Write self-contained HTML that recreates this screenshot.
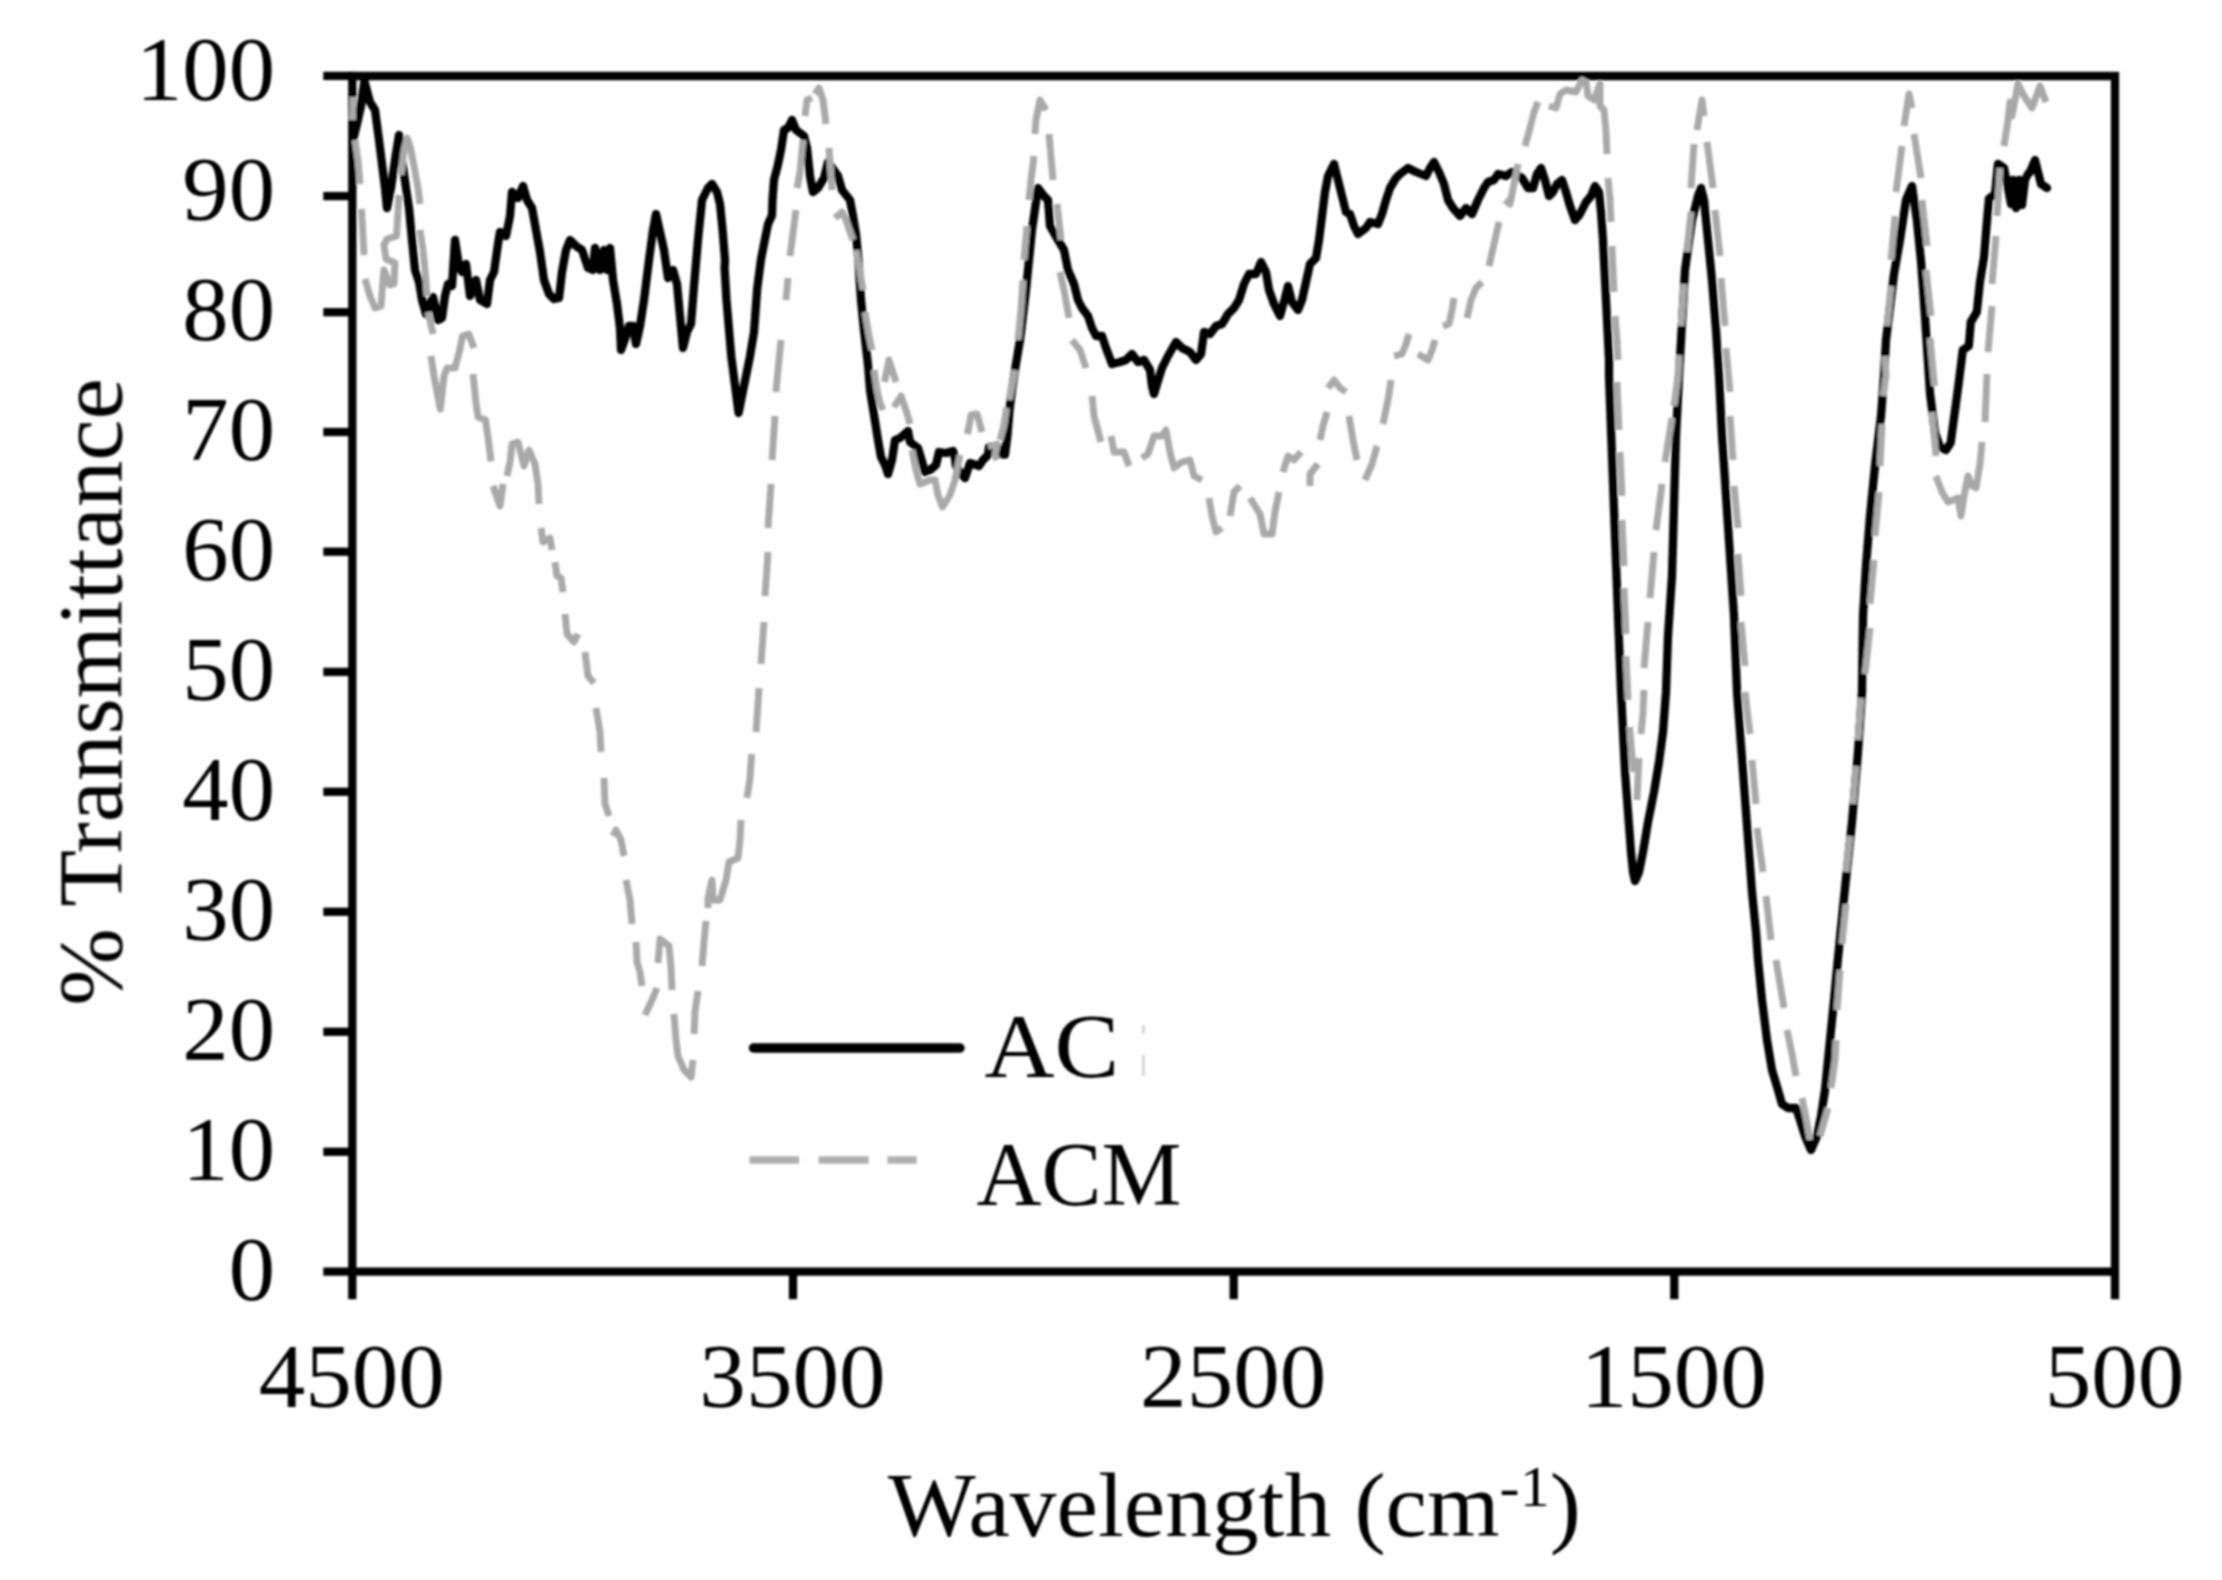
<!DOCTYPE html><html><head><meta charset="utf-8"><title>FTIR</title><style>html,body{margin:0;padding:0;background:#fff}svg{display:block}text{font-family:"Liberation Serif",serif;fill:#000}</style></head><body>
<svg width="2222" height="1580" viewBox="0 0 2222 1580">
<defs><filter id="soft" x="0" y="0" width="2222" height="1580" filterUnits="userSpaceOnUse"><feGaussianBlur stdDeviation="1.2"/></filter></defs>
<rect width="2222" height="1580" fill="#fff"/>
<g filter="url(#soft)">
<g stroke="#000" stroke-width="8.3" fill="none" stroke-linecap="butt">
<path d="M352.3,76.0 H2115.0 V1299.2 M352.3,71.75 V1299.2 M323.3,1271.7 H2115.0"/>
<path d="M323.3,1151.8 H352.3"/>
<path d="M323.3,1031.8 H352.3"/>
<path d="M323.3,911.8 H352.3"/>
<path d="M323.3,791.8 H352.3"/>
<path d="M323.3,671.9 H352.3"/>
<path d="M323.3,551.7 H352.3"/>
<path d="M323.3,432.0 H352.3"/>
<path d="M323.3,312.2 H352.3"/>
<path d="M323.3,196.1 H352.3"/>
<path d="M323.3,75.9 H352.3"/>
<path d="M793.0,1271.7 V1299.2"/>
<path d="M1233.7,1271.7 V1299.2"/>
<path d="M1674.3,1271.7 V1299.2"/>
</g>
<path d="M353.0,140.0 L357.0,124.0 L361.0,106.0 L364.4,81.0 L370.0,102.0 L375.0,110.0 L379.0,140.0 L382.0,164.0 L385.0,188.0 L387.0,208.0 L391.0,188.0 L395.0,160.0 L399.0,135.0 L402.0,160.0 L406.0,188.0 L409.0,208.0 L412.0,240.0 L415.0,270.0 L419.0,282.0 L422.0,300.0 L426.0,314.0 L433.0,297.0 L438.0,320.0 L442.0,318.0 L445.0,296.0 L448.0,284.0 L452.0,286.0 L455.0,240.0 L459.0,266.0 L462.0,272.0 L466.0,264.0 L470.0,296.0 L476.0,280.0 L480.0,300.0 L487.0,304.0 L490.0,280.0 L494.0,272.0 L498.0,244.0 L500.0,232.0 L506.0,236.0 L510.0,216.0 L512.0,192.0 L518.0,198.0 L523.0,186.0 L527.0,200.0 L532.0,208.0 L536.0,230.0 L540.0,252.0 L544.0,280.0 L549.0,294.0 L554.0,299.0 L559.0,298.0 L562.0,272.0 L566.0,250.0 L570.0,240.0 L576.0,246.0 L582.0,250.0 L588.0,268.0 L593.0,270.0 L595.0,248.0 L600.0,270.0 L604.0,250.0 L607.0,270.0 L610.0,248.0 L613.0,280.0 L617.0,304.0 L620.0,328.0 L621.0,350.0 L626.0,336.0 L629.0,326.0 L633.0,326.0 L636.0,344.0 L640.0,326.0 L644.0,300.0 L649.0,260.0 L653.0,230.0 L656.0,214.0 L660.0,232.0 L664.0,250.0 L668.0,278.0 L673.0,270.0 L677.0,284.0 L680.0,316.0 L683.0,348.0 L687.0,332.0 L691.0,324.0 L694.0,286.0 L698.0,240.0 L702.0,200.0 L708.0,188.0 L712.0,184.0 L717.0,192.0 L720.0,204.0 L722.6,230.0 L725.0,260.0 L724.6,268.6 L726.5,300.0 L731.3,356.7 L738.6,413.0 L749.9,356.7 L754.0,332.0 L755.2,316.0 L757.2,288.4 L761.1,258.8 L765.0,239.0 L768.0,224.2 L772.0,215.3 L772.5,199.5 L774.0,179.8 L777.9,165.0 L781.0,150.0 L784.0,130.0 L788.0,128.0 L792.0,120.0 L796.0,130.0 L804.0,136.0 L807.0,148.0 L810.0,176.0 L813.0,192.0 L818.0,188.0 L824.0,178.0 L828.0,162.0 L838.0,176.0 L842.0,190.0 L850.0,200.0 L853.0,216.0 L856.0,234.0 L858.4,260.0 L861.0,300.0 L864.0,330.0 L868.0,365.0 L870.0,390.0 L874.0,415.0 L878.0,440.0 L881.0,457.0 L885.0,465.0 L888.0,474.0 L892.0,460.0 L895.0,440.0 L900.0,438.0 L908.0,431.0 L910.0,442.0 L918.0,448.0 L921.0,458.0 L925.0,472.0 L930.0,470.0 L936.0,465.0 L939.0,452.0 L946.0,453.0 L953.0,451.0 L955.0,458.0 L956.0,466.0 L962.0,475.0 L965.0,478.0 L970.0,463.0 L979.0,466.0 L983.0,460.0 L988.0,455.0 L989.0,447.0 L997.0,445.5 L1000.0,454.0 L1005.0,454.5 L1007.5,435.0 L1009.5,410.0 L1012.0,390.0 L1015.0,370.0 L1020.0,340.0 L1026.0,290.0 L1032.0,230.0 L1038.0,188.0 L1044.0,196.0 L1048.0,200.0 L1050.0,226.0 L1058.0,240.0 L1064.0,250.0 L1068.0,270.0 L1074.0,284.0 L1078.0,300.0 L1082.0,308.0 L1088.0,316.0 L1092.0,328.0 L1096.0,336.0 L1102.0,336.0 L1106.0,348.0 L1112.0,364.0 L1120.0,362.0 L1126.0,360.0 L1132.0,354.0 L1138.0,362.0 L1144.0,360.0 L1150.0,370.0 L1152.0,386.0 L1154.0,394.0 L1157.0,384.0 L1162.0,368.0 L1168.0,356.0 L1176.0,342.0 L1182.0,348.0 L1190.0,352.0 L1196.0,360.0 L1201.0,354.0 L1204.0,332.0 L1210.0,334.0 L1216.0,326.0 L1222.0,324.0 L1228.0,314.0 L1234.0,308.0 L1239.0,300.0 L1244.0,284.0 L1249.0,274.0 L1256.0,274.0 L1261.0,262.0 L1266.0,272.0 L1269.0,290.0 L1274.0,304.0 L1280.0,316.0 L1285.0,298.0 L1288.0,286.0 L1292.0,302.0 L1298.0,310.0 L1302.0,300.0 L1306.0,282.0 L1310.0,264.0 L1316.0,258.0 L1319.0,240.0 L1322.0,216.0 L1325.0,192.0 L1328.0,176.0 L1334.0,164.0 L1338.0,180.0 L1342.0,196.0 L1346.0,212.0 L1350.0,214.0 L1354.0,226.0 L1358.0,234.0 L1366.0,228.0 L1370.0,222.0 L1378.0,224.0 L1382.0,214.0 L1386.0,200.0 L1390.0,188.0 L1396.0,178.0 L1400.0,174.0 L1408.0,168.0 L1416.0,172.0 L1426.0,176.0 L1430.0,168.0 L1434.0,162.0 L1439.0,172.0 L1444.0,184.0 L1448.0,200.0 L1453.0,208.0 L1460.0,216.0 L1466.0,208.0 L1472.0,214.0 L1478.0,200.0 L1484.0,188.0 L1488.0,182.0 L1494.0,180.0 L1498.0,174.0 L1506.0,176.0 L1512.0,172.0 L1522.0,178.0 L1528.0,188.0 L1533.0,188.0 L1537.0,174.0 L1541.0,168.0 L1545.0,180.0 L1549.0,196.0 L1553.0,192.0 L1557.0,184.0 L1562.0,180.0 L1566.0,192.0 L1570.0,206.0 L1575.0,220.0 L1580.0,214.0 L1586.0,202.0 L1591.0,196.0 L1595.0,186.0 L1599.0,192.0 L1601.0,212.0 L1603.0,240.0 L1605.0,280.0 L1607.0,320.0 L1609.0,360.0 L1609.0,376.0 L1612.0,456.0 L1615.0,536.0 L1618.0,616.0 L1621.0,692.0 L1623.0,732.0 L1625.0,772.0 L1628.0,812.0 L1631.0,852.0 L1633.0,872.0 L1635.0,881.0 L1639.0,872.0 L1643.0,852.0 L1648.0,822.0 L1654.0,792.0 L1659.0,762.0 L1663.0,732.0 L1666.0,692.0 L1668.0,636.0 L1672.0,576.0 L1676.0,436.0 L1679.0,376.0 L1685.0,270.0 L1692.0,220.0 L1698.0,196.0 L1701.0,188.0 L1704.0,200.0 L1708.0,240.0 L1712.0,280.0 L1716.0,330.0 L1719.0,376.0 L1722.0,436.0 L1726.0,496.0 L1730.0,556.0 L1734.0,616.0 L1737.0,692.0 L1740.0,732.0 L1743.0,772.0 L1746.0,812.0 L1749.0,852.0 L1752.0,892.0 L1756.0,932.0 L1758.0,960.0 L1762.0,1000.0 L1767.0,1040.0 L1772.0,1070.0 L1778.0,1090.0 L1782.0,1104.0 L1788.0,1108.0 L1796.0,1108.0 L1800.0,1120.0 L1805.0,1136.0 L1811.0,1150.0 L1817.0,1136.0 L1821.0,1116.0 L1825.0,1090.0 L1828.0,1060.0 L1831.0,1030.0 L1834.0,1000.0 L1838.0,958.0 L1845.0,888.0 L1852.0,822.0 L1858.0,752.0 L1862.0,692.0 L1863.0,616.0 L1866.0,566.0 L1870.0,516.0 L1875.0,466.0 L1881.0,416.0 L1884.0,376.0 L1886.0,340.0 L1894.0,274.0 L1900.0,240.0 L1906.0,200.0 L1912.0,186.0 L1917.0,221.0 L1921.0,261.0 L1924.0,302.0 L1926.0,332.0 L1930.0,393.0 L1935.0,433.0 L1940.0,447.0 L1946.0,450.0 L1950.6,443.0 L1954.7,413.0 L1958.7,383.0 L1962.8,350.0 L1968.8,346.0 L1970.8,322.0 L1976.8,312.0 L1980.0,281.4 L1984.0,257.0 L1987.0,220.6 L1989.0,198.4 L1995.0,194.4 L1996.4,180.0 L1998.0,164.0 L2004.0,168.0 L2008.0,188.0 L2011.0,204.0 L2013.0,180.0 L2016.0,208.0 L2019.0,180.0 L2022.0,205.0 L2025.0,180.0 L2028.0,174.0 L2030.0,172.0 L2035.0,160.0 L2038.0,172.0 L2041.0,184.0 L2047.0,188.0" fill="none" stroke="#000" stroke-width="8.3" stroke-linejoin="round" stroke-linecap="round"/>
<path d="M353.0,97.0 L352.5,120.0 M355.0,140.0 L358.0,160.0 L360.0,184.0 M361.5,209.0 L364.0,255.0 M365.0,279.0 L370.0,296.0 L375.0,308.0 L381.0,306.0 L383.0,280.0 L384.0,270.0 L390.0,285.0 L394.0,284.0 L395.0,263.0 L386.0,259.0 L384.0,245.0 L387.0,239.0 L396.5,236.0 L397.5,220.0 L399.0,195.0 M401.0,175.0 L404.0,150.0 L407.0,138.0 L410.0,146.0 L414.0,166.0 L418.0,188.0 L420.0,204.0 M420.0,230.0 L423.0,250.0 L425.5,275.0 L427.0,296.0 M428.0,312.0 L433.0,334.0 M431.0,356.0 L434.0,376.0 L437.0,392.0 L440.3,409.0 L444.0,376.0 L447.0,368.0 L455.0,368.0 L459.5,351.0 L462.5,336.0 L468.7,334.0 L474.0,348.0 M473.0,374.0 L476.0,403.0 L478.0,417.0 L485.5,420.0 L488.6,441.5 L491.0,461.4 M493.0,486.0 L500.0,506.0 L503.0,484.0 M507.0,476.0 L510.0,462.0 L512.0,444.0 L518.0,442.0 L524.0,466.0 L529.0,450.0 L535.0,464.0 L538.0,484.0 L539.0,504.0 M541.0,528.0 L543.0,542.0 L550.0,538.0 L552.0,550.0 M555.0,562.0 L557.0,576.0 L561.0,578.0 L563.0,592.0 M565.0,614.0 L567.0,634.0 L574.0,642.0 L578.0,634.0 M585.0,652.0 L588.0,676.0 L594.0,683.0 M596.0,708.0 L600.0,732.0 L601.0,752.0 M604.0,778.0 L605.0,804.0 L609.0,816.0 M613.0,836.0 L616.0,830.0 L621.0,840.0 L624.0,856.0 M626.0,880.0 L630.0,900.0 L632.0,924.0 M636.0,942.0 L637.0,962.0 L640.0,972.0 L642.0,986.0 M645.0,1015.0 L652.0,1000.0 L657.0,988.0 M658.0,963.0 L660.0,939.0 L669.0,946.0 L671.0,968.0 L672.0,990.0 M674.0,1014.0 L676.0,1040.0 L678.0,1056.0 L684.0,1070.0 L691.0,1077.0 L693.0,1060.0 M694.0,1034.0 L695.0,1012.0 L698.0,991.0 M702.0,966.0 L704.0,942.0 L706.0,921.0 M708.0,908.0 L708.0,898.0 L712.0,880.0 L713.0,900.0 L720.0,900.0 L726.0,880.0 L729.0,862.0 L738.0,858.0 L740.0,840.0 L741.0,820.0 M747.0,798.0 L750.0,778.0 L751.6,754.0 M756.0,732.0 L757.6,710.0 L759.0,688.0 M761.0,664.0 L764.0,622.0 M765.0,596.0 L768.0,552.0 M768.0,528.0 L771.0,484.0 M772.0,460.0 L775.0,416.0 M776.0,392.0 L778.0,370.0 L781.0,340.0 M786.0,300.0 L788.0,278.0 M790.0,256.0 L796.0,210.0 M797.0,188.0 L800.0,172.0 L803.0,140.0 M805.0,116.0 L807.0,100.0 L812.0,98.0 M815.0,94.0 L819.0,88.0 L823.0,100.0 L826.0,124.0 M829.0,148.0 L832.0,190.0 M835.0,218.0 L842.0,212.0 L846.0,220.0 L853.0,240.0 M856.0,250.0 L860.0,272.0 L863.0,290.0 M865.0,312.0 L869.0,336.0 L872.0,350.0 M874.0,370.0 L877.0,390.0 L880.0,403.0 L883.0,410.0 M884.5,382.0 L889.0,360.0 L896.0,382.0 M894.0,407.0 L901.0,396.0 L906.0,410.0 L910.0,424.0 M912.0,450.0 L916.0,470.0 L920.0,484.0 L930.0,480.0 L935.0,480.0 L938.0,495.0 L942.5,507.0 L950.0,495.0 L955.0,480.0 L958.0,465.0 L960.0,455.0 M967.5,434.0 L971.0,415.0 L977.0,414.0 L982.0,432.0 M988.0,446.0 L997.0,445.0 L995.0,455.0 L997.0,460.0 M1000.0,440.0 L1004.0,425.0 L1006.5,408.0 M1009.0,400.0 L1012.0,385.0 L1015.0,370.0 M1018.0,340.0 L1021.0,310.0 L1023.0,280.0 M1024.0,260.0 L1027.0,226.0 M1029.0,200.0 L1031.0,180.0 L1034.0,156.0 M1035.0,134.0 L1036.0,120.0 L1040.0,100.0 L1046.0,110.0 M1049.0,134.0 L1053.0,180.0 M1057.0,204.0 L1061.0,240.0 M1060.0,272.0 L1064.0,290.0 L1069.0,318.0 M1072.0,340.0 L1080.0,350.0 L1086.0,368.0 M1092.0,396.0 L1094.0,416.0 L1101.0,442.0 M1111.0,436.0 L1114.0,452.0 L1124.0,452.0 L1129.0,466.0 M1142.0,458.0 L1148.0,454.0 L1154.0,436.0 L1162.0,436.0 L1166.0,430.0 L1170.0,452.0 L1174.0,468.0 L1182.0,462.0 L1190.0,460.0 L1194.0,476.0 L1202.0,480.0 M1209.0,498.0 L1212.0,516.0 L1216.0,532.0 L1222.0,528.0 M1230.0,516.0 L1234.0,492.0 L1240.0,486.0 M1250.0,498.0 L1260.0,514.0 L1264.0,534.0 L1272.0,534.0 L1275.0,512.0 L1279.0,492.0 M1283.0,472.0 L1288.0,456.0 L1294.0,460.0 L1301.0,452.0 M1310.0,486.0 L1310.0,474.0 L1318.0,464.0 M1320.0,440.0 L1323.0,426.0 L1327.0,412.0 M1328.0,388.0 L1334.0,380.0 L1340.0,388.0 L1346.0,392.0 M1349.0,416.0 L1353.0,440.0 L1357.0,460.0 M1365.0,480.0 L1372.0,464.0 L1377.0,446.0 M1383.0,424.0 L1388.0,400.0 L1391.0,380.0 M1394.0,356.0 L1402.0,354.0 L1406.0,344.0 L1409.0,334.0 M1418.0,354.0 L1428.0,360.0 L1432.0,350.0 L1435.0,340.0 M1443.0,326.0 L1449.0,324.0 L1452.0,310.0 L1454.0,298.0 M1467.0,318.0 L1471.0,300.0 L1476.0,288.0 L1482.0,282.0 M1489.0,266.0 L1494.0,244.0 L1499.0,222.0 M1505.0,200.0 L1510.0,204.0 L1514.0,184.0 L1518.0,164.0 M1525.0,146.0 L1530.0,128.0 L1534.0,112.0 L1538.0,102.0 M1549.0,106.0 L1556.0,108.0 L1560.0,94.0 L1566.0,90.0 L1576.0,92.0 L1582.0,80.0 L1586.0,82.0 L1588.0,96.0 L1594.0,100.0 L1600.0,84.0 L1600.0,106.0 L1604.0,110.0 L1606.0,132.0 L1607.0,154.0 M1608.0,178.0 L1610.0,200.0 L1611.0,222.0 M1612.0,246.0 L1613.0,270.0 L1614.0,292.0 M1615.0,316.0 L1617.0,340.0 L1618.0,360.0 M1617.0,382.0 L1619.0,430.0 M1620.0,452.0 L1622.0,496.0 M1622.0,520.0 L1624.0,566.0 M1624.0,588.0 L1626.0,634.0 M1626.0,656.0 L1628.0,700.0 M1629.6,727.0 L1631.6,752.0 L1633.6,772.0 M1637.0,800.0 L1638.0,778.0 L1639.0,758.0 M1641.0,734.0 L1643.0,712.0 L1644.0,690.0 M1644.0,668.0 L1648.0,622.0 M1650.0,598.0 L1654.0,552.0 M1656.0,530.0 L1662.0,484.0 M1665.0,462.0 L1672.0,418.0 M1674.0,406.0 L1678.0,376.0 L1679.0,355.0 M1681.0,326.0 L1684.0,284.0 M1687.0,252.0 L1691.0,212.0 M1691.0,188.0 L1694.0,144.0 M1697.0,130.0 L1702.0,100.0 L1704.0,116.0 M1707.0,142.0 L1713.0,188.0 M1715.0,210.0 L1720.0,256.0 M1721.0,278.0 L1725.0,326.0 M1726.0,348.0 L1730.0,392.0 M1730.0,416.0 L1733.0,460.0 M1734.0,486.0 L1738.0,528.0 M1738.0,554.0 L1741.0,596.0 M1741.0,622.0 L1745.0,666.0 M1745.0,692.0 L1750.0,734.0 M1752.0,760.0 L1756.0,804.0 M1757.0,828.0 L1763.0,872.0 M1766.0,896.0 L1771.0,940.0 M1776.0,960.0 L1780.0,984.0 L1784.0,1008.0 M1787.0,1030.0 L1792.0,1054.0 L1796.0,1076.0 M1802.0,1098.0 L1806.0,1118.0 L1810.0,1140.0 M1820.0,1136.0 L1828.0,1108.0 M1831.0,1088.0 L1835.0,1060.0 L1836.0,1040.0 M1837.0,1010.0 L1840.0,970.0 M1842.0,944.0 L1846.0,904.0 M1846.0,872.0 L1850.0,836.0 M1853.0,804.0 L1856.0,766.0 M1858.0,740.0 L1861.0,698.0 M1865.0,674.0 L1870.0,628.0 M1870.0,604.0 L1874.0,560.0 M1875.0,536.0 L1879.0,492.0 M1880.0,466.0 L1882.0,424.0 M1883.0,396.0 L1886.0,376.0 L1885.0,356.0 M1887.0,326.0 L1891.0,286.0 M1891.0,260.0 L1895.0,216.0 M1896.0,192.0 L1902.0,146.0 M1904.0,126.0 L1909.0,94.0 L1912.0,108.0 M1914.0,134.0 L1921.0,178.0 M1922.0,200.0 L1927.0,246.0 M1926.0,270.0 L1931.0,316.0 M1930.0,338.0 L1934.4,386.0 M1932.0,412.0 L1936.0,456.0 M1936.0,476.0 L1942.0,492.0 L1948.0,502.0 L1958.0,498.0 L1961.0,516.0 L1964.0,496.0 L1968.0,476.0 L1972.0,486.0 L1976.0,488.0 L1980.0,464.0 L1982.0,442.0 M1985.0,422.0 L1987.0,374.0 M1988.0,352.0 L1992.0,306.0 M1992.0,284.0 L1996.0,236.0 M1997.0,216.0 L2000.0,168.0 M2004.0,146.0 L2008.0,120.0 L2010.0,102.0 L2012.0,116.0 L2018.0,84.0 L2024.0,96.0 L2032.0,108.0 L2040.0,86.0 L2046.0,102.0" fill="none" stroke="#a9a9a9" stroke-width="6.9" stroke-linejoin="round" stroke-linecap="butt"/>
<text transform="translate(275,1299.5) scale(1.03,1)" font-size="90" text-anchor="end">0</text>
<text transform="translate(275,1179.5) scale(1.03,1)" font-size="90" text-anchor="end">10</text>
<text transform="translate(275,1059.5) scale(1.03,1)" font-size="90" text-anchor="end">20</text>
<text transform="translate(275,939.5) scale(1.03,1)" font-size="90" text-anchor="end">30</text>
<text transform="translate(275,819.5) scale(1.03,1)" font-size="90" text-anchor="end">40</text>
<text transform="translate(275,699.5) scale(1.03,1)" font-size="90" text-anchor="end">50</text>
<text transform="translate(275,579.5) scale(1.03,1)" font-size="90" text-anchor="end">60</text>
<text transform="translate(275,459.5) scale(1.03,1)" font-size="90" text-anchor="end">70</text>
<text transform="translate(275,339.5) scale(1.03,1)" font-size="90" text-anchor="end">80</text>
<text transform="translate(275,219.5) scale(1.03,1)" font-size="90" text-anchor="end">90</text>
<text transform="translate(275,99.5) scale(1.03,1)" font-size="90" text-anchor="end">100</text>
<text transform="translate(351.8,1407) scale(1.035,1)" font-size="90" text-anchor="middle">4500</text>
<text transform="translate(792.5,1407) scale(1.035,1)" font-size="90" text-anchor="middle">3500</text>
<text transform="translate(1233.2,1407) scale(1.035,1)" font-size="90" text-anchor="middle">2500</text>
<text transform="translate(1673.8,1407) scale(1.035,1)" font-size="90" text-anchor="middle">1500</text>
<text transform="translate(2114.5,1407) scale(1.035,1)" font-size="90" text-anchor="middle">500</text>
<text transform="translate(121.5,692) rotate(-90) scale(1.033,1)" font-size="90" text-anchor="middle">% Transmittance</text>
<text transform="translate(1234.3,1535.5) scale(1.037,1)" font-size="90" text-anchor="middle">Wavelength (cm<tspan font-size="58" dy="-30">-1</tspan><tspan dy="30">)</tspan></text>
<path d="M753.5,1048 H960" stroke="#000" stroke-width="9.5" stroke-linecap="round" fill="none"/>
<path d="M749.5,1160 H799 M818.5,1160 H868.5 M887.5,1160 H916.5" stroke="#b0b0b0" stroke-width="7.5" fill="none"/>
<text transform="translate(984.5,1076.5) scale(1.079,1)" font-size="90">AC</text>
<text x="976.5" y="1204.5" font-size="90">ACM</text>
<path d="M1143.4,1025 V1034 M1143.4,1055 V1076" stroke="#cfcfcf" stroke-width="2.5" fill="none"/>
</g>
</svg></body></html>
